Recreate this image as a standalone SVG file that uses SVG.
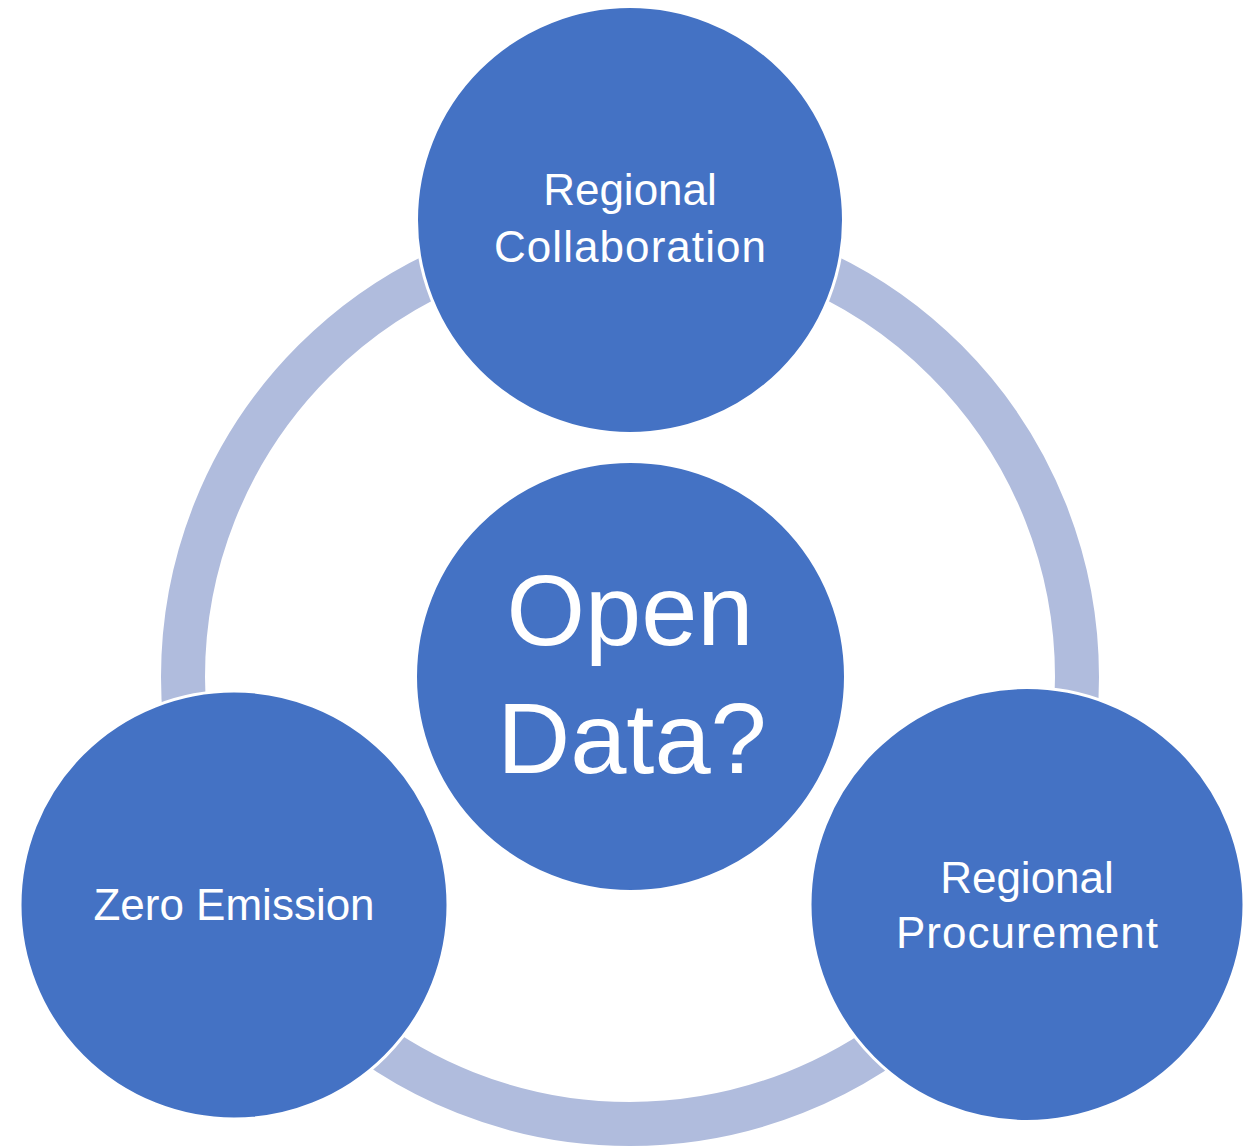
<svg xmlns="http://www.w3.org/2000/svg" width="1250" height="1146" viewBox="0 0 1250 1146">
<style>
.node{fill:#4472C4;stroke:#FFFFFF;stroke-width:3}
.lbl{fill:#FFFFFF;font-family:"Liberation Sans",Arial,sans-serif;font-size:44px;text-anchor:middle}
.big{font-size:101px}
</style>
<g id="connectors">
<circle cx="630" cy="677" r="447" fill="none" stroke="#B0BCDD" stroke-width="44"/>
</g>
<g id="node-center">
<circle class="node" cx="630.5" cy="676.5" r="215"/>
<text class="lbl big" x="630" y="645">Open</text>
<text class="lbl big" x="632" y="773">Data?</text>
</g>
<g id="node-top">
<circle class="node" cx="630" cy="220" r="213.5"/>
<text class="lbl" x="630" y="205">Regional</text>
<text class="lbl" x="630" y="262" textLength="272" lengthAdjust="spacing">Collaboration</text>
</g>
<g id="node-left">
<circle class="node" cx="234" cy="905" r="214"/>
<text class="lbl" x="234" y="920">Zero Emission</text>
</g>
<g id="node-right">
<circle class="node" cx="1027" cy="904.5" r="217"/>
<text class="lbl" x="1027" y="893">Regional</text>
<text class="lbl" x="1027" y="948" textLength="262" lengthAdjust="spacing">Procurement</text>
</g>
</svg>
